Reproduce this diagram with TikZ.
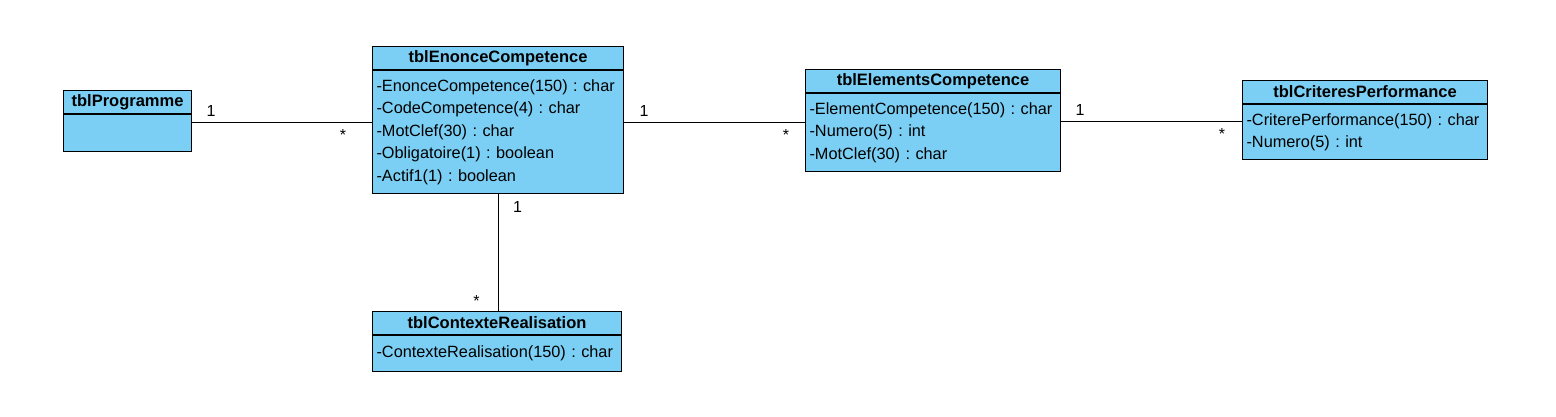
\documentclass[tikz,border=0pt]{standalone}
\usepackage{fontspec}
\setmainfont{Liberation Sans}
\usepackage{tikz}
\usetikzlibrary{positioning}
\definecolor{classBlue}{HTML}{7BCFF4}
\newcommand{\attrfont}{\fontsize{16.3}{22.5}\selectfont\frenchspacing}

\begin{document}
\begin{tikzpicture}[x=1pt, y=-1pt, line cap=round,
    classhead/.style={draw, fill=classBlue, line width=1.1pt, anchor=north west, inner sep=0pt,
        minimum height=23pt, font=\fontsize{16.5}{18}\selectfont\bfseries},
    classbody/.style={draw, fill=classBlue, line width=1.1pt, inner xsep=4pt, inner ysep=0pt,
        align=left, font=\attrfont},
    assoc/.style={line width=1.1pt},
    mult/.style={inner sep=0pt, font=\fontsize{16}{16}\selectfont}]
    \useasboundingbox (0,0) rectangle (1556,417);

    \node[classhead, minimum width=128pt] (proghead) at (63,90) {tblProgramme};
    \node[classbody, minimum width=128pt, minimum height=37pt, below=0pt of proghead] (progbody) {};

    \node[classhead, minimum width=251pt] (enhead) at (372,46) {tblEnonceCompetence};
    \node[classbody, text width=243pt, minimum height=123pt, below=0pt of enhead] (enbody)
        {-EnonceCompetence(150) : char\\-CodeCompetence(4) : char\\-MotClef(30) : char\\
         -Obligatoire(1) : boolean\\-Actif1(1) : boolean\\[-2pt]};

    \node[classhead, minimum width=255pt] (elhead) at (805,69) {tblElementsCompetence};
    \node[classbody, text width=247pt, minimum height=78pt, below=0pt of elhead] (elbody)
        {-ElementCompetence(150) : char\\-Numero(5) : int\\-MotClef(30) : char\\[-2pt]};

    \node[classhead, minimum width=245pt] (crhead) at (1242,80) {tblCriteresPerformance};
    \node[classbody, text width=237pt, minimum height=55pt, below=0pt of crhead] (crbody)
        {-CriterePerformance(150) : char\\-Numero(5) : int\\[-2pt]};

    \node[classhead, minimum width=249pt] (ctxhead) at (372,311) {tblContexteRealisation};
    \node[classbody, text width=241pt, minimum height=36pt, below=0pt of ctxhead] (ctxbody)
        {-ContexteRealisation(150) : char\\[-2pt]};

    % associations
    \draw[assoc] (progbody.north east) ++(0,8) coordinate (a1) -- (a1 -| enbody.west)
        node[mult, pos=0, xshift=19pt, yshift=11pt] (m1a) {1}
        node[mult, pos=1, xshift=-29pt, yshift=-12.5pt] (m1b) {*};
    \draw[assoc] (enbody.north east) ++(0,52) coordinate (a2) -- (a2 -| elbody.west)
        node[mult, pos=0, xshift=20pt, yshift=11pt] (m2a) {1}
        node[mult, pos=1, xshift=-19pt, yshift=-12.5pt] (m2b) {*};
    \draw[assoc] (elbody.north east) ++(0,28) coordinate (a3) -- (a3 -| crbody.west)
        node[mult, pos=0, xshift=19pt, yshift=11pt] (m3a) {1}
        node[mult, pos=1, xshift=-20pt, yshift=-12.5pt] (m3b) {*};
    \draw[assoc] (enbody.south) -- (enbody.south |- ctxhead.north)
        node[mult, pos=0, xshift=19.5pt, yshift=-13pt] (m4a) {1}
        node[mult, pos=1, xshift=-21.5pt, yshift=10.5pt] (m4b) {*};
\end{tikzpicture}
\end{document}
